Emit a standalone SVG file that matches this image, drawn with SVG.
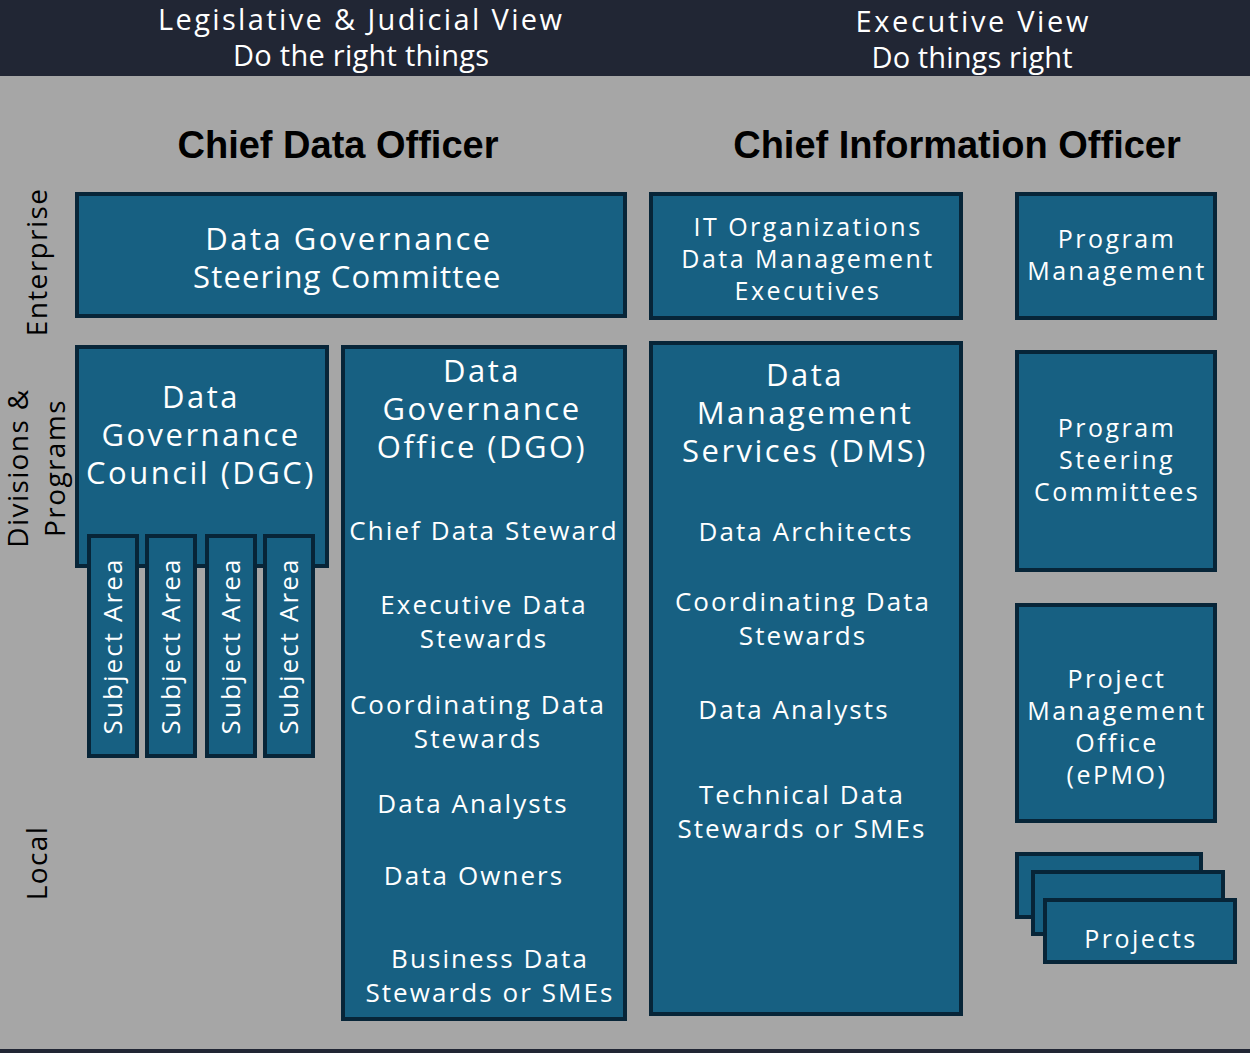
<svg xmlns="http://www.w3.org/2000/svg" width="1250" height="1053" viewBox="0 0 1250 1053">
<style>
.bx{fill:#176082;stroke:#072538;stroke-width:4}
text{font-family:"Open Sans","DejaVu Sans",sans-serif;text-anchor:middle;letter-spacing:0.08em}
.w{fill:#ffffff}
.h{fill:#ffffff;font-size:29px;letter-spacing:0}
.t{font-family:"Liberation Sans",Arial,sans-serif;font-weight:bold;font-size:38px;fill:#000;letter-spacing:0}
.l{font-size:28px;fill:#000;letter-spacing:0.05em}
.xl{font-size:31px}
.m{font-size:26px}
.s{font-size:25px;letter-spacing:0.1em}
</style>
<rect x="0" y="0" width="1250" height="1053" fill="#a6a6a6"/>
<rect x="0" y="0" width="1250" height="76" fill="#212634"/>
<rect x="0" y="1049" width="1250" height="4" fill="#212634"/>
<g id="header">
<text class="h" x="360" y="30" textLength="404" lengthAdjust="spacing">Legislative &amp; Judicial View</text>
<text class="h" x="361" y="66" textLength="256" lengthAdjust="spacing">Do the right things</text>
<text class="h" x="972" y="32" textLength="233" lengthAdjust="spacing">Executive View</text>
<text class="h" x="972" y="68" textLength="201" lengthAdjust="spacing">Do things right</text>
</g>
<g id="titles">
<text class="t" x="338" y="158">Chief Data Officer</text>
<text class="t" x="957" y="158">Chief Information Officer</text>
</g>
<g id="row-labels">
<text class="l" transform="translate(47,262) rotate(-90)">Enterprise</text>
<text class="l" transform="translate(28,468) rotate(-90)">Divisions &amp;</text>
<text class="l" transform="translate(65,468) rotate(-90)">Programs</text>
<text class="l" transform="translate(47,863) rotate(-90)">Local</text>
</g>
<g id="dgsc">
<rect class="bx" x="77" y="194" width="548" height="122"/>
<text class="w xl" x="349" y="250">Data Governance</text>
<text class="w xl" x="348" y="288" textLength="310" lengthAdjust="spacing">Steering Committee</text>
</g>
<g id="it-org">
<rect class="bx" x="651" y="194" width="310" height="124"/>
<text class="w s" x="808" y="236">IT Organizations</text>
<text class="w s" x="808" y="268">Data Management</text>
<text class="w s" x="808" y="300">Executives</text>
</g>
<g id="program-management">
<rect class="bx" x="1017" y="194" width="198" height="124"/>
<text class="w s" x="1117" y="248">Program</text>
<text class="w s" x="1117" y="280">Management</text>
</g>
<g id="dgc">
<rect class="bx" x="77" y="347" width="250" height="219"/>
<text class="w xl" x="201" y="408">Data</text>
<text class="w xl" x="201" y="446">Governance</text>
<text class="w xl" x="201" y="484">Council (DGC)</text>
</g>
<g id="subject-area-1">
<rect class="bx" x="89" y="536" width="48" height="220"/>
<text class="w m" transform="translate(122,646) rotate(-90)">Subject Area</text>
</g>
<g id="subject-area-2">
<rect class="bx" x="147" y="536" width="48" height="220"/>
<text class="w m" transform="translate(180,646) rotate(-90)">Subject Area</text>
</g>
<g id="subject-area-3">
<rect class="bx" x="207" y="536" width="48" height="220"/>
<text class="w m" transform="translate(240,646) rotate(-90)">Subject Area</text>
</g>
<g id="subject-area-4">
<rect class="bx" x="265" y="536" width="48" height="220"/>
<text class="w m" transform="translate(298,646) rotate(-90)">Subject Area</text>
</g>
<g id="dgo">
<rect class="bx" x="343" y="347" width="282" height="672"/>
<text class="w xl" x="482" y="382">Data</text>
<text class="w xl" x="482" y="420">Governance</text>
<text class="w xl" x="482" y="458">Office (DGO)</text>
<text class="w m" x="484" y="540">Chief Data Steward</text>
<text class="w m" x="484" y="614">Executive Data</text>
<text class="w m" x="484" y="648">Stewards</text>
<text class="w m" x="478" y="714">Coordinating Data</text>
<text class="w m" x="478" y="748">Stewards</text>
<text class="w m" x="473" y="813">Data Analysts</text>
<text class="w m" x="474" y="885">Data Owners</text>
<text class="w m" x="490" y="968">Business Data</text>
<text class="w m" x="490" y="1002">Stewards or SMEs</text>
</g>
<g id="dms">
<rect class="bx" x="651" y="343" width="310" height="671"/>
<text class="w xl" x="805" y="386">Data</text>
<text class="w xl" x="805" y="424">Management</text>
<text class="w xl" x="805" y="462">Services (DMS)</text>
<text class="w m" x="806" y="541">Data Architects</text>
<text class="w m" x="803" y="611">Coordinating Data</text>
<text class="w m" x="803" y="645">Stewards</text>
<text class="w m" x="794" y="719">Data Analysts</text>
<text class="w m" x="802" y="804">Technical Data</text>
<text class="w m" x="802" y="838">Stewards or SMEs</text>
</g>
<g id="program-steering">
<rect class="bx" x="1017" y="352" width="198" height="218"/>
<text class="w s" x="1117" y="437">Program</text>
<text class="w s" x="1117" y="469">Steering</text>
<text class="w s" x="1117" y="501">Committees</text>
</g>
<g id="pmo">
<rect class="bx" x="1017" y="605" width="198" height="216"/>
<text class="w s" x="1117" y="688">Project</text>
<text class="w s" x="1117" y="720">Management</text>
<text class="w s" x="1117" y="752">Office</text>
<text class="w s" x="1117" y="784">(ePMO)</text>
</g>
<g id="projects">
<rect class="bx" x="1017" y="854" width="184" height="63"/>
<rect class="bx" x="1033" y="872" width="190" height="62"/>
<rect class="bx" x="1045" y="900" width="190" height="62"/>
<text class="w s" x="1141" y="948">Projects</text>
</g>
<g id="connectors"></g>
</svg>
